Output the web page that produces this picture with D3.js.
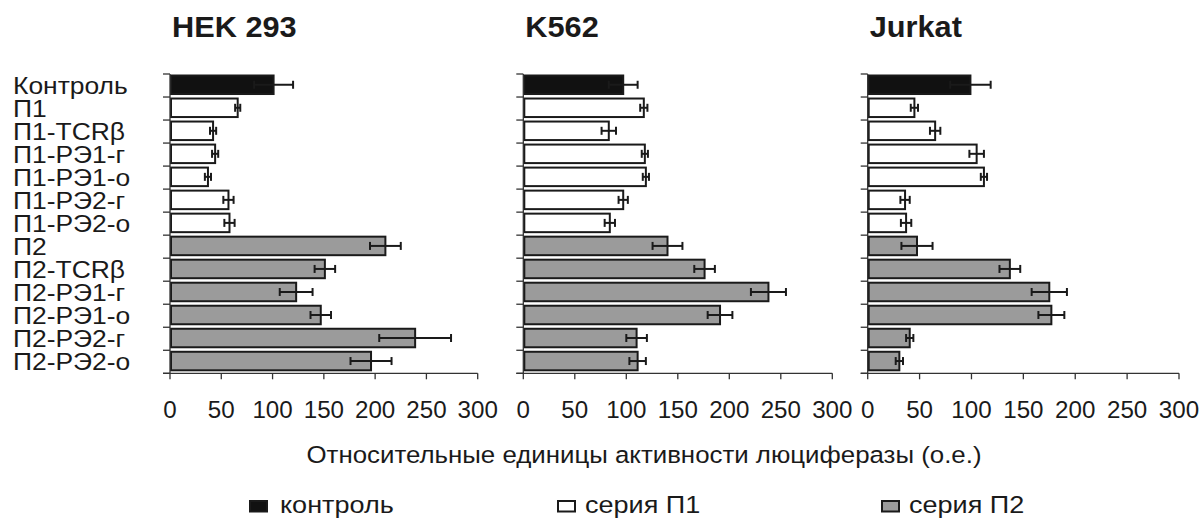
<!DOCTYPE html>
<html>
<head>
<meta charset="utf-8">
<script src="https://cdn.jsdelivr.net/npm/d3@7"></script>
<style>
  html, body { margin: 0; padding: 0; background: #fff; }
  svg { display: block; font-family: "Liberation Sans", Arial, sans-serif; }
</style>
</head>
<body>
<div id="chart"></div>
<script>
// categories (rows, top to bottom) and their series group
const categories = ['Контроль', 'П1', 'П1-TCRβ', 'П1-РЭ1-г', 'П1-РЭ1-о', 'П1-РЭ2-г', 'П1-РЭ2-о',
                    'П2', 'П2-TCRβ', 'П2-РЭ1-г', 'П2-РЭ1-о', 'П2-РЭ2-г', 'П2-РЭ2-о'];
const groups = ['control', 'p1', 'p1', 'p1', 'p1', 'p1', 'p1', 'p2', 'p2', 'p2', 'p2', 'p2', 'p2'];

const cellLines = ['HEK 293', 'K562', 'Jurkat'];

// mean luciferase activity (o.e.) and error, per cell line
const hekValues    = [101, 66, 42, 44, 37, 57, 58, 210, 151, 123, 147, 239, 196];
const hekErrors    = [19, 2.5, 3, 3, 3, 5, 5, 15, 10, 16, 10, 35, 20];
const k562Values   = [97, 117, 83, 118, 119, 97, 84, 140, 176, 238, 191, 110, 111];
const k562Errors   = [14, 3.5, 7, 3, 3, 4.5, 5, 14.5, 10, 17, 12, 10, 8];
const jurkatValues = [99, 45, 65, 105, 112, 36, 37, 47.5, 137, 175, 177, 40.5, 30.5];
const jurkatErrors = [19.5, 3.5, 5, 7, 3, 4.5, 5, 15, 10, 17, 12.5, 3.5, 3.5];

const xTicks = [0, 50, 100, 150, 200, 250, 300];

const legendLabels = ['контроль', 'серия П1', 'серия П2'];
const legendKeys = ['control', 'p1', 'p2'];

const fills = { control: '#111111', p1: '#ffffff', p2: '#9b9b9b' };
const ink = '#1a1a1a';

const W = 1199, H = 518;
const svg = d3.select('#chart').append('svg').attr('width', W).attr('height', H);

// text in the source is a bit stretched sideways
function label(sel, x, y, sx) {
    return sel.attr('transform', function (d, i) {
        const xx = typeof x === 'function' ? x(d, i) : x;
        const yy = typeof y === 'function' ? y(d, i) : y;
        return 'translate(' + xx + ',' + yy + ') scale(' + sx + ',1)';
    });
}

const panels = [
    { name: cellLines[0], x0: 170,   x1: 477.7, values: hekValues,    errors: hekErrors },
    { name: cellLines[1], x0: 523.3, x1: 832.3, values: k562Values,   errors: k562Errors },
    { name: cellLines[2], x0: 867.7, x1: 1179,  values: jurkatValues, errors: jurkatErrors }
];

const yTop = 74, yBot = 373.3;
const y = d3.scaleBand().domain(categories).range([yTop, yBot]).padding(0);
const bw = y.bandwidth();

// row labels (left of first panel)
label(svg.append('g').selectAll('text').data(categories).enter().append('text'),
      13, d => y(d) + bw / 2 + 8, 1.15)
    .attr('font-size', 23)
    .attr('fill', ink)
    .text(d => d);

panels.forEach(function (p) {
    const x = d3.scaleLinear().domain([0, 300]).range([p.x0, p.x1]);
    const g = svg.append('g');

    // title
    label(g.append('text'), p.x0 + 2, 36.7, 1.06)
        .attr('font-size', 29).attr('font-weight', 'bold').attr('fill', ink)
        .text(p.name);

    const rows = categories.map((c, i) => ({ c: c, v: p.values[i], e: p.errors[i], grp: groups[i] }));

    // bars
    g.append('g').selectAll('rect').data(rows).enter().append('rect')
        .attr('x', x(0) + 1)
        .attr('y', d => y(d.c) + 1.5)
        .attr('width', d => x(d.v) - x(0) - 1)
        .attr('height', bw - 4.5)
        .attr('fill', d => fills[d.grp])
        .attr('stroke', ink)
        .attr('stroke-width', 2);

    // error bars
    const eb = g.append('g').attr('stroke', ink).attr('stroke-width', 2)
        .selectAll('g').data(rows).enter().append('g')
        .attr('transform', d => 'translate(0,' + (y(d.c) + 1.5 + (bw - 4.5) / 2) + ')');
    eb.append('line')
        .attr('x1', d => x(d.v - d.e)).attr('x2', d => x(d.v + d.e));
    eb.append('line')
        .attr('x1', d => x(d.v - d.e)).attr('x2', d => x(d.v - d.e)).attr('y1', -4).attr('y2', 4);
    eb.append('line')
        .attr('x1', d => x(d.v + d.e)).attr('x2', d => x(d.v + d.e)).attr('y1', -4).attr('y2', 4);

    // y axis: line + ticks at band edges
    const edges = categories.map(c => y(c)).concat([yBot]);
    const ax = g.append('g').attr('stroke', '#333').attr('stroke-width', 1.3);
    ax.append('line').attr('x1', x(0)).attr('x2', x(0)).attr('y1', yTop).attr('y2', yBot);
    ax.selectAll('.yt').data(edges).enter().append('line')
        .attr('x1', x(0) - 7).attr('x2', x(0)).attr('y1', d => d).attr('y2', d => d);

    // x axis
    ax.append('line').attr('x1', x(0) - 7).attr('x2', x(300)).attr('y1', yBot).attr('y2', yBot);
    ax.selectAll('.xt').data(xTicks).enter().append('line')
        .attr('x1', d => x(d)).attr('x2', d => x(d)).attr('y1', yBot).attr('y2', yBot + 6);
    label(g.append('g').selectAll('text').data(xTicks).enter().append('text'),
          d => x(d), 418.3, 1.05)
        .attr('text-anchor', 'middle')
        .attr('font-size', 23).attr('fill', ink)
        .text(d => d);
});

// x axis title
label(svg.append('text'), 644, 463.3, 1.1)
    .attr('text-anchor', 'middle')
    .attr('font-size', 23.5).attr('fill', ink)
    .text('Относительные единицы активности люциферазы (о.е.)');

// legend
const legendX = [249, 557, 881];
const lg = svg.append('g').selectAll('g').data(legendKeys).enter().append('g')
    .attr('transform', (d, i) => 'translate(' + legendX[i] + ',500)');
lg.append('rect')
    .attr('x', 1).attr('y', 1).attr('width', 17).attr('height', 10.5)
    .attr('fill', d => fills[d]).attr('stroke', ink).attr('stroke-width', 2);
label(lg.append('text'), (d, i) => i === 0 ? 31 : 28, 12.5, 1.15)
    .attr('font-size', 23.5).attr('fill', ink)
    .text((d, i) => legendLabels[i]);
</script>
</body>
</html>
